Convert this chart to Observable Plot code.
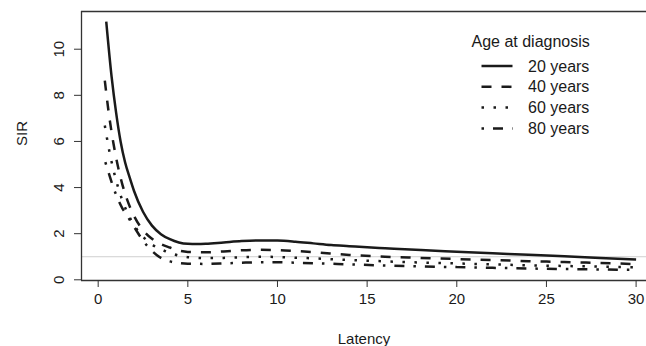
<!DOCTYPE html>
<html><head><meta charset="utf-8">
<script src="https://cdn.jsdelivr.net/npm/d3@7"></script>
<script src="https://cdn.jsdelivr.net/npm/@observablehq/plot@0.6"></script>
<style>body{margin:0;background:#fff} #chart{width:646px;height:346px}</style>
</head><body><div id="chart"></div>
<script>
// ---- data ----
const ages = ["20 years", "40 years", "60 years", "80 years"];
const legendTitle = "Age at diagnosis";
const xTicks = [0, 5, 10, 15, 20, 25, 30];
const yTicks = [0, 2, 4, 6, 8, 10];
const refLine = [1];

const lat20 = [0.45,0.75,1,1.25,1.5,1.75,2,2.5,3,3.5,4,4.5,5,5.5,6,7,8,9,10,11,12,13,14,15,16,18,20,22,24,26,28,30];
const sir20 = [11.2,8.8,7.25,6.0,5.1,4.45,3.85,2.95,2.35,1.98,1.76,1.62,1.56,1.55,1.56,1.62,1.68,1.71,1.70,1.65,1.58,1.51,1.46,1.41,1.37,1.29,1.22,1.15,1.09,1.02,0.95,0.88];

const lat40 = [0.37,0.6,0.85,1.1,1.35,1.6,2,2.5,3,3.5,4,4.5,5,6,7,8,9,10,11,12,14,16,18,20,22,24,26,28,30];
const sir40 = [8.64,7.18,5.92,4.92,4.13,3.51,2.77,2.16,1.78,1.55,1.40,1.27,1.21,1.19,1.23,1.28,1.30,1.29,1.25,1.20,1.08,1.00,0.95,0.90,0.86,0.81,0.77,0.73,0.68];

const lat60 = [0.37,0.6,0.85,1.1,1.35,1.6,2,2.5,3,3.5,4,4.5,5,6,7,8,9,10,11,12,14,16,18,20,22,24,26,28,30];
const sir60 = [6.69,5.67,4.77,4.04,3.44,2.96,2.37,1.87,1.53,1.32,1.17,1.05,0.98,0.94,0.95,0.98,1.00,0.99,0.96,0.93,0.86,0.80,0.75,0.71,0.67,0.63,0.60,0.57,0.54];

const lat80 = [0.4,0.6,0.85,1.1,1.35,1.6,2,2.5,3,3.5,4,4.5,5,6,7,8,9,10,11,12,14,16,18,20,22,24,26,28,30];
const sir80 = [5.1,4.6,4.0,3.5,3.1,2.8,2.3,1.7,1.25,0.95,0.80,0.73,0.70,0.69,0.71,0.74,0.76,0.76,0.74,0.72,0.67,0.62,0.58,0.55,0.52,0.49,0.47,0.45,0.43];

// ---- styles ----
const dashes = [null, "10,10", "2.5,9.5", "2.5,9,10,9"];
const lats = [lat20, lat40, lat60, lat80];
const sirs = [sir20, sir40, sir60, sir80];

const series = ages.map((age, i) => ({
  age, dash: dashes[i],
  rows: lats[i].map((l, j) => ({latency: l, sir: sirs[i][j]}))
}));

const xDomain = [-0.93, 30.58];
const yDomain = [-0.03, 11.635];
const font = "'Liberation Sans', Arial, Helvetica, sans-serif";
const ink = "#1a1a1a";

const plot = Plot.plot({
  width: 646, height: 346,
  marginLeft: 81, marginRight: 0, marginTop: 11, marginBottom: 66,
  style: {fontFamily: font, fontSize: "15px", color: ink, background: "#fff", overflow: "hidden"},
  x: {domain: xDomain},
  y: {domain: yDomain},
  marks: [
    Plot.ruleY(refLine, {stroke: "#cfcfcf", strokeWidth: 1}),
    ...series.map(s => Plot.line(s.rows, {
      x: "latency", y: "sir", stroke: ink, strokeWidth: 2.5,
      strokeDasharray: s.dash, curve: "monotone-x", strokeLinecap: "butt"
    })),
    Plot.ruleX([xDomain[0]], {stroke: "#333", strokeWidth: 1.3}),
    Plot.ruleY(yDomain, {stroke: "#333", strokeWidth: 1.3}),
    Plot.axisX({ticks: xTicks, tickSize: 7, tickPadding: 6, fontSize: 15, label: null, stroke: "#333"}),
    Plot.axisY({ticks: yTicks, tickSize: 7, tickPadding: 11, tickRotate: -90, fontSize: 15, label: null, stroke: "#333"}),
    Plot.text(["Latency"], {frameAnchor: "bottom", dy: 63, fontSize: 15, fill: ink}),
    Plot.text(["SIR"], {frameAnchor: "left", dx: -59, rotate: -90, fontSize: 15, fill: ink})
  ]
});
document.getElementById("chart").appendChild(plot);

// ---- legend (drawn in pixel space inside the same svg) ----
const svg = d3.select(plot);
const lg = svg.append("g").attr("font-family", font).attr("font-size", 16)
  .attr("fill", ink).attr("text-anchor", "start");
lg.append("text").attr("x", 471.5).attr("y", 41).attr("dominant-baseline", "central").text(legendTitle);
ages.forEach((age, i) => {
  const y = 66 + i * 20.8;
  lg.append("line").attr("x1", 481.5).attr("x2", 512.5).attr("y1", y).attr("y2", y)
    .attr("stroke", ink).attr("stroke-width", 2.5)
    .attr("stroke-dasharray", dashes[i]);
  lg.append("text").attr("x", 528).attr("y", y).attr("dominant-baseline", "central").text(age);
});
</script></body></html>
